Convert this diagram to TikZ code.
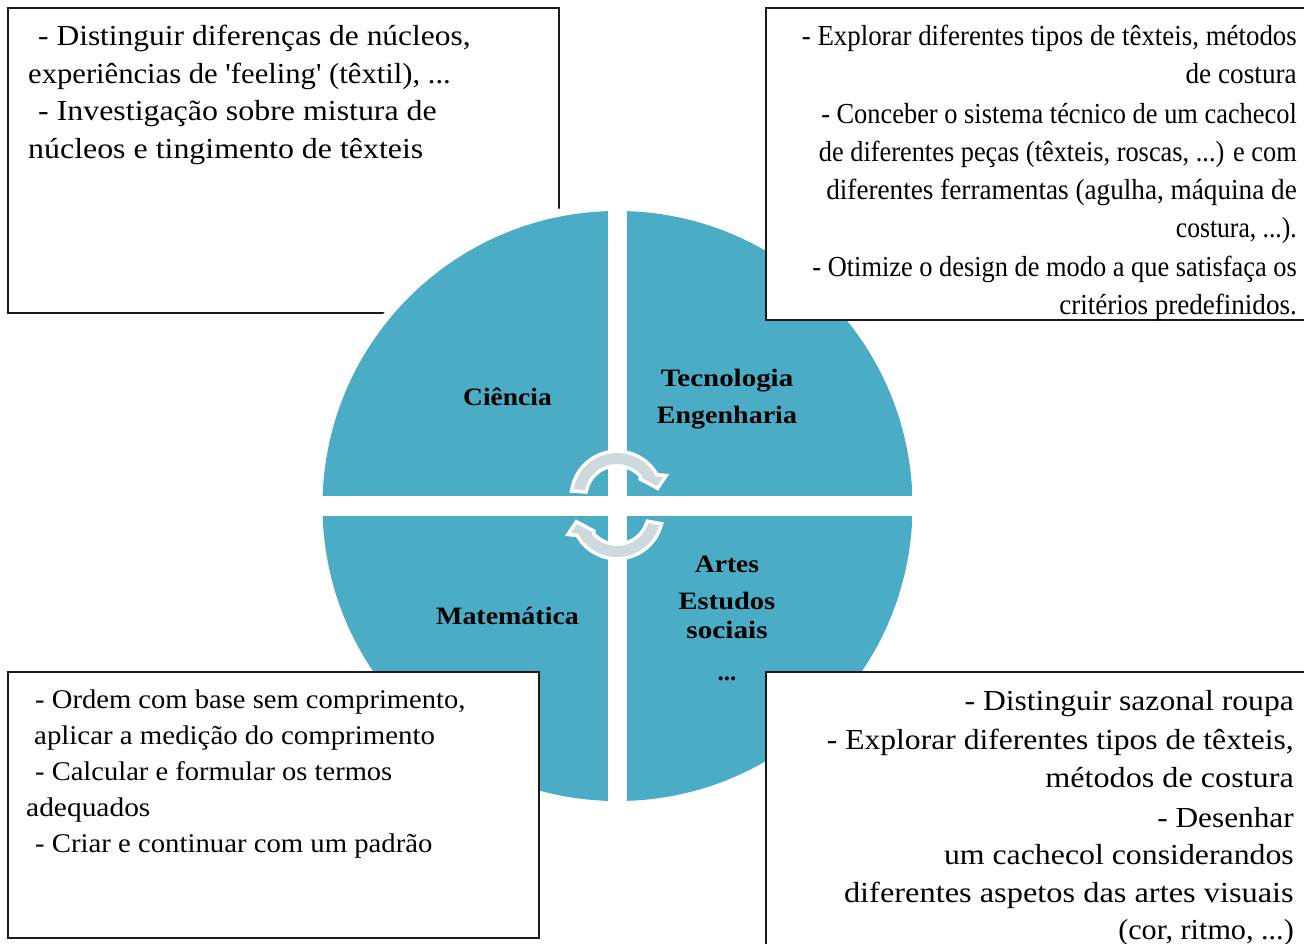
\documentclass[tikz,border=0pt]{standalone}
\usepackage{fontspec}
\usepackage{graphicx}
\setmainfont{Liberation Serif}
\newfontfamily\plainquote{Liberation Serif}
\definecolor{quad}{HTML}{4BACC6}
\definecolor{arrowgray}{HTML}{CDD9DD}
\definecolor{boxline}{HTML}{1A1A1A}
\newcommand{\lineL}[5]{\node[lineleft] (#1) at (#2,-#3) {\scalebox{#5}[1]{#4}};}
\newcommand{\lineR}[5]{\node[lineright] (#1) at (#2,-#3) {\scalebox{#5}[1]{#4}};}
\newcommand{\labl}[5]{\node[lab] (#1) at (#2,-#3) {\scalebox{#5}[1]{#4}};}
\tikzset{
  x=1pt,y=1pt,
  textbox/.style={draw=boxline,line width=1.6pt,fill=white,inner sep=0pt,anchor=north west},
  lineleft/.style={anchor=base west,inner sep=0pt},
  lineright/.style={anchor=base east,inner sep=0pt},
  lab/.style={anchor=base,inner sep=0pt,font=\fontsize{25}{25}\selectfont\bfseries},
  cyc/.style={fill=arrowgray,preaction={draw=white,line width=7pt,line join=miter}},
}
\begin{document}
\begin{tikzpicture}
\useasboundingbox (0,0) rectangle (1304,-943);
\fill[white] (0,0) rectangle (1304,-943);
% top-left box lies under the disc
\node[textbox,minimum width=551pt,minimum height=305pt] (boxTL) at (7.2,-7.2) {};
% disc quadrants, with a white rim
\coordinate (c) at (617.5,-506);
\fill[white] (c) circle (303);
\begin{scope}
\clip (c) circle (295);
\fill[quad] (322,-211) rectangle (608,-496);
\fill[quad] (627,-211) rectangle (912,-496);
\fill[quad] (322,-516) rectangle (608,-801);
\fill[quad] (627,-516) rectangle (912,-801);
\end{scope}
% cycle arrows
\begin{scope}[shift={(617,-497)}]
\path[cyc] (170:44) arc (170:28:44) -- (46,20) -- (40,11) -- (25,19) -- (40:33) arc (40:168:33) -- cycle;
\end{scope}
\begin{scope}[shift={(617,-513)},rotate=180]
\path[cyc] (164:44) arc (164:28:44) -- (46,20) -- (40,11) -- (25,19) -- (40:33) arc (40:162:33) -- cycle;
\end{scope}
% other boxes
\node[textbox,minimum width=545pt,minimum height=312pt] (boxTR) at (765.2,-7.2) {};
\node[textbox,minimum width=531pt,minimum height=266pt] (boxBL) at (7.2,-671.2) {};
\node[textbox,minimum width=545pt,minimum height=290pt] (boxBR) at (765.2,-671.2) {};
% labels
\labl{l1}{507.5}{405}{Ciência}{1.1}
\labl{l2}{727}{386}{Tecnologia}{1.158}
\labl{l3}{727}{423}{Engenharia}{1.12}
\labl{l4}{507.5}{624}{Matemática}{1.118}
\labl{l5}{727}{572}{Artes}{1.1}
\labl{l6}{727}{609}{Estudos}{1.14}
\labl{l7}{727}{638}{sociais}{1.17}
\labl{l8}{727}{680}{...}{1}
% top-left text
\begin{scope}[font=\fontsize{29}{29}\selectfont]
\lineL{a1}{38}{45}{- Distinguir diferenças de núcleos,}{1.085}
\lineL{a2}{28}{83}{experiências de {\plainquote'}feeling{\plainquote'} (têxtil), ...}{1.056}
\lineL{a3}{38}{120}{- Investigação sobre mistura de}{1.10}
\lineL{a4}{28}{158}{núcleos e tingimento de têxteis}{1.10}
\end{scope}
% top-right text
\begin{scope}[font=\fontsize{29}{29}\selectfont]
\lineR{b1}{1297}{45}{- Explorar diferentes tipos de têxteis, métodos}{.927}
\lineR{b2}{1297}{83}{de costura}{.94}
\lineR{b3}{1297}{123}{- Conceber o sistema técnico de um cachecol}{.91}
\lineR{b4}{1297}{161}{de diferentes peças (têxteis, roscas, ...) e com}{.909}
\lineR{b5}{1297}{199}{diferentes ferramentas (agulha, máquina de}{.938}
\lineR{b6}{1297}{237}{costura, ...).}{.883}
\lineR{b7}{1297}{276}{- Otimize o design de modo a que satisfaça os}{.91}
\lineR{b8}{1297}{314}{critérios predefinidos.}{.933}
\end{scope}
% bottom-left text
\begin{scope}[font=\fontsize{27}{27}\selectfont]
\lineL{c1}{35}{708}{- Ordem com base sem comprimento,}{1.059}
\lineL{c2}{34}{744}{aplicar a medição do comprimento}{1.069}
\lineL{c3}{35}{780}{- Calcular e formular os termos}{1.056}
\lineL{c4}{26}{816}{adequados}{1.09}
\lineL{c5}{35}{852}{- Criar e continuar com um padrão}{1.064}
\end{scope}
% bottom-right text
\begin{scope}[font=\fontsize{29}{29}\selectfont]
\lineR{d1}{1294}{710}{- Distinguir sazonal roupa}{1.09}
\lineR{d2}{1294}{749}{- Explorar diferentes tipos de têxteis,}{1.09}
\lineR{d3}{1294}{787}{métodos de costura}{1.11}
\lineR{d4}{1294}{827}{- Desenhar}{1.08}
\lineR{d5}{1294}{864}{um cachecol considerandos}{1.097}
\lineR{d6}{1294}{902}{diferentes aspetos das artes visuais}{1.117}
\lineR{d7}{1294}{939}{(cor, ritmo, ...)}{1.04}
\end{scope}
\end{tikzpicture}
\end{document}
